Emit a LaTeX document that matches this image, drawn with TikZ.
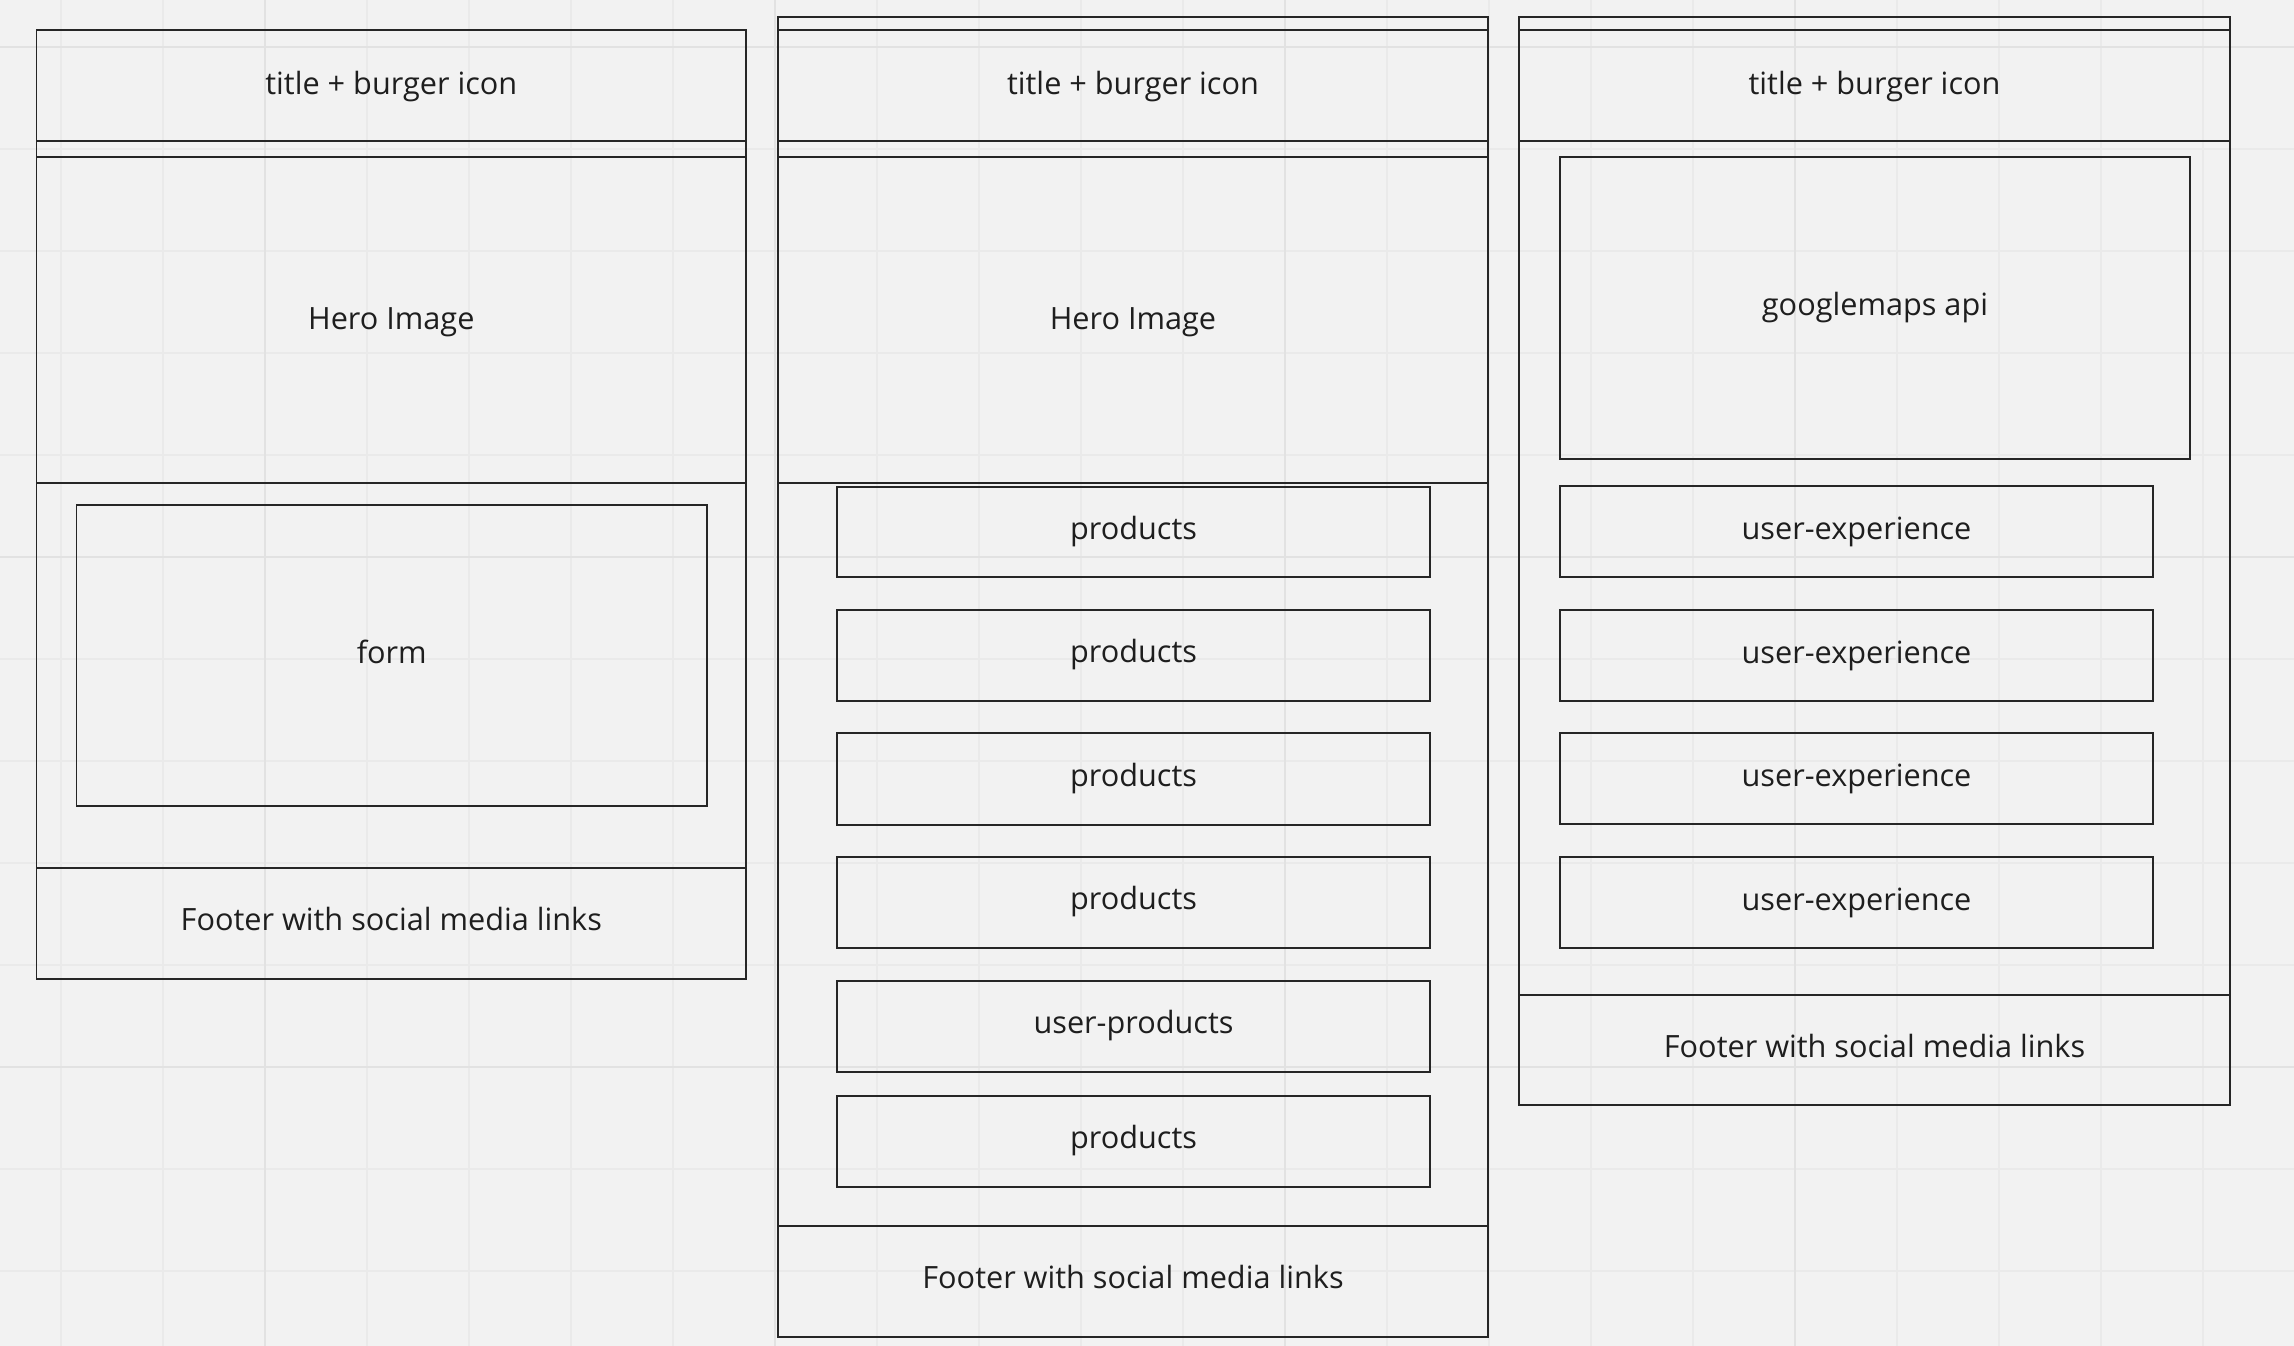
\documentclass[tikz,border=0pt]{standalone}
\usepackage{fontspec}
\setmainfont{Open Sans}
\usetikzlibrary{fit}
\definecolor{bg}{HTML}{F2F2F2}
\definecolor{gridminor}{HTML}{EAEAEA}
\definecolor{gridmajor}{HTML}{E2E2E2}
\definecolor{ink}{HTML}{262626}
\definecolor{txt}{HTML}{1E1E1E}
\begin{document}
\begin{tikzpicture}[x=0.01cm,y=-0.01cm,
  frame/.style={draw=ink, line width=0.5pt, inner sep=0pt, outer sep=0pt},
  lbl/.style={inner sep=0pt, anchor=base, text=txt,
    font=\fontsize{8.72pt}{10pt}\selectfont},
  minorgrid/.style={draw=gridminor, line width=0.4pt},
  majorgrid/.style={draw=gridmajor, line width=0.5pt}]
\fill[bg] (0,0) rectangle (2294,1346);
\useasboundingbox (0,0) rectangle (2294,1346);
% grid
\foreach \x in {61,163,...,2294} \draw[minorgrid] (\x,0) -- (\x,1346);
\foreach \y in {47,149,...,1346} \draw[minorgrid] (0,\y) -- (2294,\y);
\foreach \x in {265,775,1285,1795} \draw[majorgrid] (\x,0) -- (\x,1346);
\foreach \y in {47,557,1067} \draw[majorgrid] (0,\y) -- (2294,\y);

% column 1
\node[frame, fit={(36.6,30)(746,979)}] (c1) {};
\node[frame, fit={(36.6,30)(746,141)}] (c1title) {};
\node[frame, fit={(36.6,157)(746,483)}] (c1hero) {};
\node[frame, fit={(76.5,505)(707,806)}] (c1form) {};
\node[frame, fit={(36.6,868)(746,979)}] (c1foot) {};
\node[lbl] (c1titleT) at ([yshift=-2.7pt]c1title.center) {title + burger icon};
\node[lbl] (c1heroT) at ([yshift=-2.65pt]c1hero.center) {Hero Image};
\node[lbl] (c1formT) at ([yshift=-2.2pt]c1form.center) {form};
\node[lbl] (c1footT) at ([yshift=-2.05pt]c1foot.center) {Footer with social media links};

% column 2
\node[frame, fit={(778,17)(1488,1337)}] (c2) {};
\node[frame, fit={(778,30)(1488,141)}] (c2title) {};
\node[frame, fit={(778,157)(1488,483)}] (c2hero) {};
\node[frame, fit={(837,487)(1430,577)}] (c2p1) {};
\node[frame, fit={(837,610)(1430,701)}] (c2p2) {};
\node[frame, fit={(837,733)(1430,825)}] (c2p3) {};
\node[frame, fit={(837,857)(1430,948)}] (c2p4) {};
\node[frame, fit={(837,981)(1430,1072)}] (c2p5) {};
\node[frame, fit={(837,1096)(1430,1187)}] (c2p6) {};
\node[frame, fit={(778,1226)(1488,1337)}] (c2foot) {};
\node[lbl] (c2titleT) at ([yshift=-2.7pt]c2title.center) {title + burger icon};
\node[lbl] (c2heroT) at ([yshift=-2.65pt]c2hero.center) {Hero Image};
\node[lbl] (c2p1T) at ([yshift=-2.1pt]c2p1.center) {products};
\node[lbl] (c2p2T) at ([yshift=-2.1pt]c2p2.center) {products};
\node[lbl] (c2p3T) at ([yshift=-2.1pt]c2p3.center) {products};
\node[lbl] (c2p4T) at ([yshift=-2.1pt]c2p4.center) {products};
\node[lbl] (c2p5T) at ([yshift=-2.1pt]c2p5.center) {user-products};
\node[lbl] (c2p6T) at ([yshift=-2.1pt]c2p6.center) {products};
\node[lbl] (c2footT) at ([yshift=-2.05pt]c2foot.center) {Footer with social media links};

% column 3
\node[frame, fit={(1519,17)(2230,1105)}] (c3) {};
\node[frame, fit={(1519,30)(2230,141)}] (c3title) {};
\node[frame, fit={(1560,157)(2190,459)}] (c3map) {};
\node[frame, fit={(1560,486)(2153,577)}] (c3u1) {};
\node[frame, fit={(1560,610)(2153,701)}] (c3u2) {};
\node[frame, fit={(1560,733)(2153,824)}] (c3u3) {};
\node[frame, fit={(1560,857)(2153,948)}] (c3u4) {};
\node[frame, fit={(1519,995)(2230,1105)}] (c3foot) {};
\node[lbl] (c3titleT) at ([yshift=-2.7pt]c3title.center) {title + burger icon};
\node[lbl] (c3mapT) at ([yshift=-2.0pt]c3map.center) {googlemaps api};
\node[lbl] (c3u1T) at ([yshift=-2.2pt]c3u1.center) {user-experience};
\node[lbl] (c3u2T) at ([yshift=-2.2pt]c3u2.center) {user-experience};
\node[lbl] (c3u3T) at ([yshift=-2.2pt]c3u3.center) {user-experience};
\node[lbl] (c3u4T) at ([yshift=-2.2pt]c3u4.center) {user-experience};
\node[lbl] (c3footT) at ([yshift=-2.05pt]c3foot.center) {Footer with social media links};
\end{tikzpicture}
\end{document}
